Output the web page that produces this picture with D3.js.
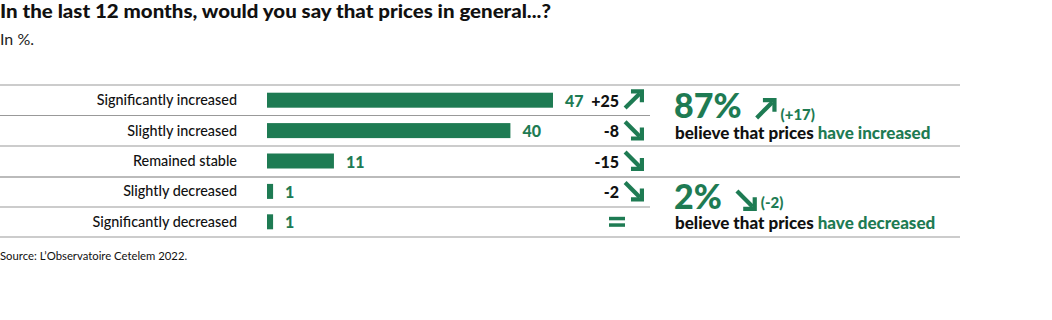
<!DOCTYPE html>
<html><head><meta charset="utf-8">
<script src="https://cdn.jsdelivr.net/npm/d3@7"></script>
<style>body{margin:0;background:#fff}svg{display:block}</style>
</head><body>
<script>
const categories = ["Significantly increased","Slightly increased","Remained stable","Slightly decreased","Significantly decreased"];
const values = [47,40,11,1,1];
const changes = ["+25","-8","-15","-2","="];
const summaryValues = ["87%","2%"];
const summaryChanges = ["(+17)","(-2)"];
const summaryDirs = ["up","down"];
const summaryWords = ["have increased","have decreased"];
const title = "In the last 12 months, would you say that prices in general...?";
const subtitle = "In %.";
const source = "Source: L’Observatoire Cetelem 2022.";

const W=1052,H=320, green="#1e7b53", font="Lato, 'Open Sans', sans-serif";
const svg=d3.select("body").append("svg").attr("width",W).attr("height",H).style("font-family",font);

svg.append("text").attr("x",0).attr("y",18).attr("font-size",19.5).attr("font-weight",900).attr("fill","#111")
  .attr("textLength",551).attr("lengthAdjust","spacingAndGlyphs").text(title);
svg.append("text").attr("x",0).attr("y",45).attr("font-size",16).attr("font-weight",400).attr("fill","#222").text(subtitle);

const y=d3.scaleBand().domain(categories).range([85,237]).paddingInner(0).paddingOuter(0);
const x=d3.scaleLinear().domain([0,47]).range([267,553]);

// grid lines
const bounds=[85,115.5,146,177,207,237];
const full=[true,false,true,true,false,true];
bounds.forEach((b,i)=>{
  svg.append("line").attr("x1",0).attr("x2",full[i]?960:650).attr("y1",b).attr("y2",b)
    .attr("stroke",i===3?"#bbb":"#999").attr("stroke-width",i===3?2:1.2);
});

const g=svg.append("g");
categories.forEach((c,i)=>{
  const cy=y(c)+y.bandwidth()/2;
  g.append("text").attr("x",237).attr("y",cy+5).attr("text-anchor","end").attr("font-size",14.4).attr("font-weight",500).attr("fill","#111").text(c);
  g.append("rect").attr("x",x(0)).attr("y",cy-7.5).attr("width",x(values[i])-x(0)).attr("height",15).attr("fill",green);
  g.append("text").attr("x",x(values[i])+12).attr("y",cy+6.5).attr("font-size",16).attr("font-weight",900).attr("fill",green).text(values[i]);
  const ch=changes[i];
  if(ch==="="){
    g.append("rect").attr("x",609).attr("y",cy-5).attr("width",16).attr("height",3.5).attr("fill",green);
    g.append("rect").attr("x",609).attr("y",cy+1.5).attr("width",16).attr("height",3.5).attr("fill",green);
  } else {
    g.append("text").attr("x",619).attr("y",cy+6.5).attr("text-anchor","end").attr("font-size",16).attr("font-weight",900).attr("fill","#111").text(ch);
    drawArrow(g,623,cy-11,ch.startsWith("+")?"up":"down",21);
  }
});

function drawArrow(sel,x0,y0,dir,s){
  const t=4.2;
  const gg=sel.append("g").attr("transform",`translate(${x0},${y0})`);
  if(dir==="up"){
    gg.append("path").attr("d",`M${t/2},${s-t/2} L${s-t},${t}`).attr("stroke",green).attr("stroke-width",t).attr("fill","none");
    gg.append("path").attr("d",`M${s*0.38},${t/2} L${s-t/2},${t/2} L${s-t/2},${s*0.62}`).attr("stroke",green).attr("stroke-width",t).attr("fill","none").attr("stroke-linejoin","miter");
  } else {
    gg.append("path").attr("d",`M${t/2},${t/2} L${s-t},${s-t}`).attr("stroke",green).attr("stroke-width",t).attr("fill","none");
    gg.append("path").attr("d",`M${s*0.38},${s-t/2} L${s-t/2},${s-t/2} L${s-t/2},${s*0.38}`).attr("stroke",green).attr("stroke-width",t).attr("fill","none").attr("stroke-linejoin","miter");
  }
}

// summaries
const sumY=[118,209];
const sumChY=[120,208];
const sumTextY=[139,229];
summaryValues.forEach((v,i)=>{
  const t=svg.append("text").attr("x",674).attr("y",sumY[i]).attr("font-size",34).attr("font-weight",900).attr("fill",green).text(v);
  const w=t.node().getComputedTextLength();
  const ax=674+w+13;
  drawArrow(svg,ax,sumY[i]-20,summaryDirs[i],22);
  svg.append("text").attr("x",ax+26).attr("y",sumChY[i]).attr("font-size",15).attr("font-weight",900).attr("fill",green).text(summaryChanges[i]);
  const tt=svg.append("text").attr("x",675).attr("y",sumTextY[i]).attr("font-size",17).attr("font-weight",900).attr("fill","#111");
  tt.append("tspan").text("believe that prices ");
  tt.append("tspan").attr("fill",green).text(summaryWords[i]);
});

svg.append("text").attr("x",0).attr("y",260).attr("font-size",11.3).attr("fill","#111").text(source);
</script>
</body></html>
